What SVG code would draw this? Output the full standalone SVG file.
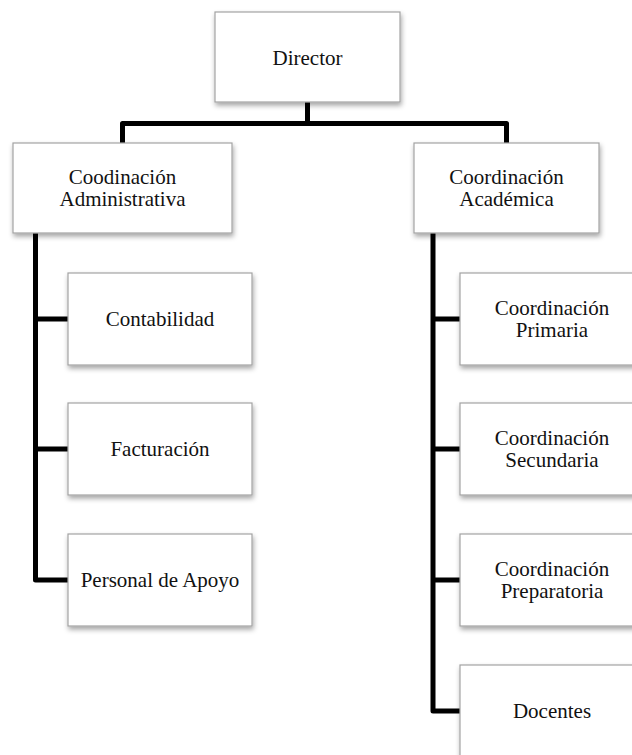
<svg xmlns="http://www.w3.org/2000/svg" width="632" height="755" viewBox="0 0 632 755">
<defs>
<filter id="sh" x="-10%" y="-10%" width="125%" height="140%">
<feDropShadow dx="1" dy="3" stdDeviation="2.5" flood-color="#000" flood-opacity="0.35"/>
</filter>
<style>
.box{fill:#fff;stroke:#a3a3a3;stroke-width:1.2;filter:url(#sh)}
.lbl{font-family:"Liberation Serif","Times New Roman",serif;font-size:21px;fill:#111;text-anchor:middle}
.con{fill:none;stroke:#000;stroke-width:5;stroke-linejoin:round}
</style>
</defs>
<rect width="632" height="755" fill="#fff"/>
<g id="connectors">
<path class="con" d="M307.5 102 V123.5"/>
<path class="con" d="M122.5 143 V123.5 H506.5 V143"/>
<path class="con" d="M35.5 233 V580 H68"/>
<path class="con" d="M35.5 319 H68 M35.5 449 H68"/>
<path class="con" d="M433 233 V711 H460"/>
<path class="con" d="M433 319 H460 M433 449 H460 M433 580 H460"/>
</g>
<g id="director">
<rect class="box" x="215" y="12" width="185" height="90"/>
<text class="lbl" x="307.5" y="65">Director</text>
</g>
<g id="coord-administrativa">
<rect class="box" x="13" y="143" width="219" height="90"/>
<text class="lbl" x="122.5" y="184">Coodinación</text>
<text class="lbl" x="122.5" y="205.5">Administrativa</text>
</g>
<g id="coord-academica">
<rect class="box" x="414" y="143" width="185" height="90"/>
<text class="lbl" x="506.5" y="184">Coordinación</text>
<text class="lbl" x="506.5" y="205.5">Académica</text>
</g>
<g id="contabilidad">
<rect class="box" x="68" y="273" width="184" height="92"/>
<text class="lbl" x="160" y="326">Contabilidad</text>
</g>
<g id="facturacion">
<rect class="box" x="68" y="403" width="184" height="92"/>
<text class="lbl" x="160" y="456">Facturación</text>
</g>
<g id="personal-apoyo">
<rect class="box" x="68" y="534" width="184" height="92"/>
<text class="lbl" x="160" y="587">Personal de Apoyo</text>
</g>
<g id="coord-primaria">
<rect class="box" x="460" y="273" width="184" height="92"/>
<text class="lbl" x="552" y="315">Coordinación</text>
<text class="lbl" x="552" y="336.5">Primaria</text>
</g>
<g id="coord-secundaria">
<rect class="box" x="460" y="403" width="184" height="92"/>
<text class="lbl" x="552" y="445">Coordinación</text>
<text class="lbl" x="552" y="466.5">Secundaria</text>
</g>
<g id="coord-preparatoria">
<rect class="box" x="460" y="534" width="184" height="92"/>
<text class="lbl" x="552" y="576">Coordinación</text>
<text class="lbl" x="552" y="597.5">Preparatoria</text>
</g>
<g id="docentes">
<rect class="box" x="460" y="665" width="184" height="92"/>
<text class="lbl" x="552" y="718">Docentes</text>
</g>
</svg>
